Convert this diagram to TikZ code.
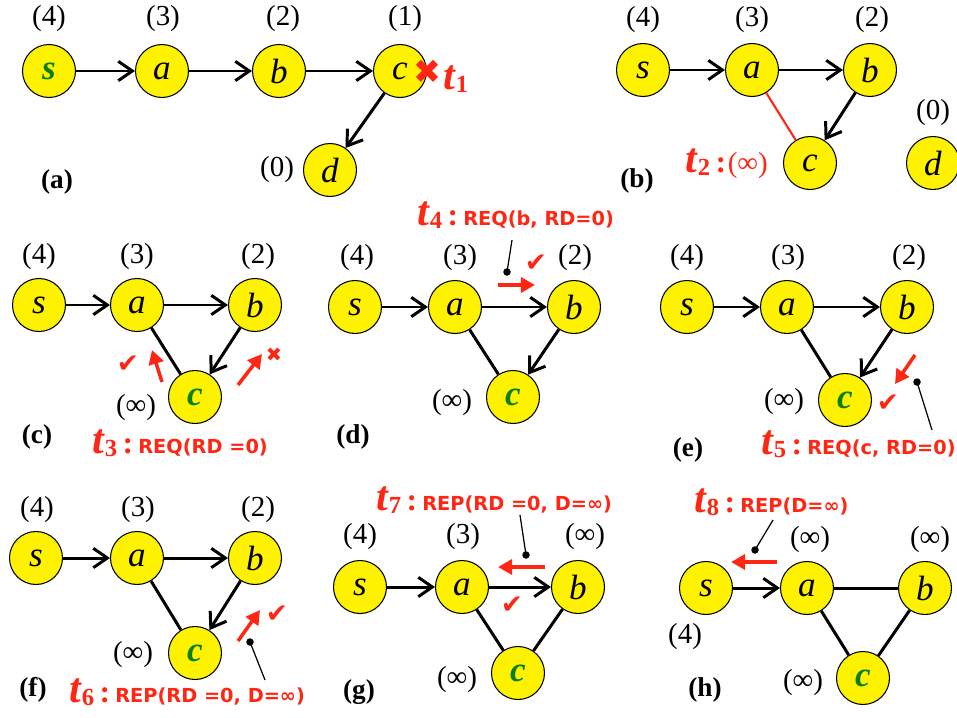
\documentclass[tikz,border=0pt]{standalone}
\usepackage{fontspec}
\setmainfont{Liberation Serif}
\newfontfamily\djs{DejaVu Sans}
\usetikzlibrary{arrows.meta}
\definecolor{rd}{RGB}{255,38,20}
\definecolor{gn}{RGB}{10,128,10}
\newcommand{\tlabA}[1]{{\fontsize{24}{24}\selectfont\bfseries\itshape t}\kern0.5pt\raisebox{-0.45ex}{\fontsize{14}{14}\selectfont\bfseries #1}}
\newcommand{\colonsep}{\hspace{3pt}{\fontsize{18}{18}\selectfont\bfseries :}\hspace{3pt}}
\newcommand{\msgtxt}[1]{{\djs\bfseries\fontsize{11}{11}\selectfont #1}}
\newcommand{\gc}{\textcolor{gn}{\bfseries c}}
\tikzset{
  x=0.02cm, y=-0.02cm,
  vtx/.style={circle, draw=black, line width=0.6pt, fill=yellow, minimum size=1.06cm, inner sep=0pt,
    font=\fontsize{20}{20}\selectfont\itshape},
  dist/.style={font=\fontsize{16.5}{16.5}\selectfont, inner sep=0pt},
  panel/.style={font=\fontsize{15.5}{15.5}\selectfont\bfseries, inner sep=0pt},
  edge/.style={line width=1.7pt, -{Straight Barb[length=8pt,width=11pt]}},
  lnk/.style={line width=1.7pt},
  rarrow/.style={draw=rd, line width=2pt, -{Triangle[length=8pt,width=8.5pt]}},
  pin/.style={line width=0.7pt},
  pindot/.style={circle, fill=black, inner sep=0pt, minimum size=0.15cm},
  chk/.style={text=rd, font=\djs\fontsize{15}{15}\selectfont, inner sep=0pt},
  tlab/.style={text=rd, anchor=base west, inner sep=0pt},
}
\begin{document}
\begin{tikzpicture}
\useasboundingbox (0,0) rectangle (957,717);
% ---------- (a)
\node[vtx] (as) at (49,71) {\textcolor{gn}{\bfseries s}};
\node[vtx] (aa) at (162,71) {a};
\node[vtx] (ab) at (279,71) {b};
\node[vtx] (ac) at (400,71) {c};
\node[vtx] (ad) at (330,170) {d};
\node[dist] (as-l) at (49,19) {(4)};
\node[dist] (aa-l) at (163,19) {(3)};
\node[dist] (ab-l) at (283,19) {(2)};
\node[dist] (ac-l) at (405,19) {(1)};
\node[dist] (ad-l) at (277,170) {(0)};
\node[panel] (pa) at (57,182) {(a)};
\draw[edge] (as) -- (aa);
\draw[edge] (aa) -- (ab);
\draw[edge] (ab) -- (ac);
\draw[edge] (ac) -- (ad);
\node[text=rd, font=\djs\fontsize{19}{19}\selectfont, inner sep=0pt] (ax) at (427,72) {✖};
\node[tlab] (t1) at (443,89) {\tlabA{1}};
% ---------- (b)
\node[vtx] (bs) at (643,70) {s};
\node[vtx] (ba) at (752,70) {a};
\node[vtx] (bb) at (870,70) {b};
\node[vtx] (bc) at (810,163) {c};
\node[vtx] (bd) at (933,163) {d};
\node[dist] (bs-l) at (643,20) {(4)};
\node[dist] (ba-l) at (752,20) {(3)};
\node[dist] (bb-l) at (872,20) {(2)};
\node[dist] (bd-l) at (933,113) {(0)};
\node[panel] (pb) at (637,181) {(b)};
\draw[edge] (bs) -- (ba);
\draw[edge] (ba) -- (bb);
\draw[edge] (bb) -- (bc);
\draw[draw=rd, line width=1.2pt] (ba) -- (bc);
\node[tlab] (t2) at (685,172) {\tlabA{2}\hspace{3pt}{\fontsize{18}{18}\selectfont\bfseries :}\hspace{1pt}{\fontsize{16.5}{16.5}\selectfont (∞)}};
% ---------- (c)
\node[vtx] (cs) at (39,305) {s};
\node[vtx] (ca) at (137,305) {a};
\node[vtx] (cb) at (255,305) {b};
\node[vtx] (cc) at (195,397) {\gc};
\node[dist] (cs-l) at (39,257) {(4)};
\node[dist] (ca-l) at (137,257) {(3)};
\node[dist] (cb-l) at (258,257) {(2)};
\node[dist] (cc-l) at (136,408) {(∞)};
\node[panel] (pc) at (37,437) {(c)};
\draw[edge] (cs) -- (ca);
\draw[edge] (ca) -- (cb);
\draw[edge] (cb) -- (cc);
\draw[lnk] (ca) -- (cc);
\coordinate (c-r1s) at (162,382); \coordinate (c-r1e) at (152,350);
\draw[rarrow] (c-r1s) -- (c-r1e);
\coordinate (c-r2s) at (238,385); \coordinate (c-r2e) at (262,354);
\draw[rarrow] (c-r2s) -- (c-r2e);
\node[chk] (c-ok) at (128,364) {✔};
\node[text=rd, font=\djs\fontsize{11}{11}\selectfont, inner sep=0pt] (c-no) at (274,355) {✖};
\node[tlab] (t3) at (92,453) {\tlabA{3}\colonsep\msgtxt{REQ(RD =0)}};
% ---------- (d)
\node[vtx] (ds) at (355,307) {s};
\node[vtx] (da) at (455,307) {a};
\node[vtx] (db) at (574,307) {b};
\node[vtx] (dc) at (513,397) {\gc};
\node[dist] (ds-l) at (357,258) {(4)};
\node[dist] (da-l) at (460,258) {(3)};
\node[dist] (db-l) at (575,258) {(2)};
\node[dist] (dc-l) at (452,403) {(∞)};
\node[panel] (pd) at (353,437) {(d)};
\draw[edge] (ds) -- (da);
\draw[edge] (da) -- (db);
\draw[edge] (db) -- (dc);
\draw[lnk] (da) -- (dc);
\node[tlab] (t4) at (417,225) {\tlabA{4}\colonsep\msgtxt{REQ(b, RD=0)}};
\node[pindot] (d-dot) at (507,272) {};
\coordinate (d-pt) at (512,240);
\draw[pin] (d-pt) -- (d-dot.center);
\coordinate (d-rs) at (498,285); \coordinate (d-re) at (535,285);
\draw[rarrow] (d-rs) -- (d-re);
\node[chk] (d-ok) at (536,263) {✔};
% ---------- (e)
\node[vtx] (es) at (687,307) {s};
\node[vtx] (ea) at (787,307) {a};
\node[vtx] (eb) at (907,307) {b};
\node[vtx] (ec) at (845,400) {\gc};
\node[dist] (es-l) at (687,258) {(4)};
\node[dist] (ea-l) at (788,258) {(3)};
\node[dist] (eb-l) at (909,258) {(2)};
\node[dist] (ec-l) at (784,402) {(∞)};
\node[panel] (pe) at (688,450) {(e)};
\draw[edge] (es) -- (ea);
\draw[edge] (ea) -- (eb);
\draw[edge] (eb) -- (ec);
\draw[lnk] (ea) -- (ec);
\coordinate (e-rs) at (915,355); \coordinate (e-re) at (895,384);
\draw[rarrow] (e-rs) -- (e-re);
\node[chk] (e-ok) at (888,403) {✔};
\node[pindot] (e-dot) at (917,382) {};
\coordinate (e-pt) at (932,430);
\draw[pin] (e-pt) -- (e-dot.center);
\node[tlab] (t5) at (761,454) {\tlabA{5}\colonsep\msgtxt{REQ(c, RD=0)}};
% ---------- (f)
\node[vtx] (fs) at (36,558) {s};
\node[vtx] (fa) at (137,558) {a};
\node[vtx] (fb) at (255,558) {b};
\node[vtx] (fc) at (195,653) {\gc};
\node[dist] (fs-l) at (37,510) {(4)};
\node[dist] (fa-l) at (138,510) {(3)};
\node[dist] (fb-l) at (258,510) {(2)};
\node[dist] (fc-l) at (133,655) {(∞)};
\node[panel] (pf) at (33,690) {(f)};
\draw[edge] (fs) -- (fa);
\draw[edge] (fa) -- (fb);
\draw[edge] (fb) -- (fc);
\draw[lnk] (fa) -- (fc);
\coordinate (f-rs) at (238,641); \coordinate (f-re) at (260,610);
\draw[rarrow] (f-rs) -- (f-re);
\node[chk] (f-ok) at (277,614) {✔};
\node[pindot] (f-dot) at (250,642) {};
\coordinate (f-pt) at (265,680);
\draw[pin] (f-pt) -- (f-dot.center);
\node[tlab] (t6) at (69,702) {\tlabA{6}\colonsep\msgtxt{REP(RD =0, D=∞)}};
% ---------- (g)
\node[vtx] (gs) at (360,587) {s};
\node[vtx] (ga) at (462,587) {a};
\node[vtx] (gb) at (578,587) {b};
\node[vtx] (gc) at (518,673) {\gc};
\node[dist] (gs-l) at (360,537) {(4)};
\node[dist] (ga-l) at (463,537) {(3)};
\node[dist] (gb-l) at (585,537) {(∞)};
\node[dist] (gc-l) at (457,680) {(∞)};
\node[panel] (pg) at (359,692) {(g)};
\draw[edge] (gs) -- (ga);
\draw[edge] (ga) -- (gb);
\draw[lnk] (ga) -- (gc);
\draw[lnk] (gb) -- (gc);
\node[tlab] (t7) at (376,510) {\tlabA{7}\colonsep\msgtxt{REP(RD =0, D=∞)}};
\node[pindot] (g-dot) at (526,555) {};
\coordinate (g-pt) at (520,515);
\draw[pin] (g-pt) -- (g-dot.center);
\coordinate (g-rs) at (545,567); \coordinate (g-re) at (498,567);
\draw[rarrow] (g-rs) -- (g-re);
\node[chk] (g-ok) at (512,605) {✔};
% ---------- (h)
\node[vtx] (hs) at (706,588) {s};
\node[vtx] (ha) at (807,588) {a};
\node[vtx] (hb) at (925,588) {b};
\node[vtx] (hc) at (863,678) {\gc};
\node[dist] (hs-l) at (685,637) {(4)};
\node[dist] (ha-l) at (810,540) {(∞)};
\node[dist] (hb-l) at (930,540) {(∞)};
\node[dist] (hc-l) at (803,683) {(∞)};
\node[panel] (ph) at (705,690) {(h)};
\draw[edge] (hs) -- (ha);
\draw[lnk] (ha) -- (hb);
\draw[lnk] (ha) -- (hc);
\draw[lnk] (hb) -- (hc);
\node[tlab] (t8) at (694,512) {\tlabA{8}\colonsep\msgtxt{REP(D=∞)}};
\node[pindot] (h-dot) at (755,550) {};
\coordinate (h-pt) at (773,520);
\draw[pin] (h-pt) -- (h-dot.center);
\coordinate (h-rs) at (777,562); \coordinate (h-re) at (731,562);
\draw[rarrow] (h-rs) -- (h-re);
\end{tikzpicture}
\end{document}
